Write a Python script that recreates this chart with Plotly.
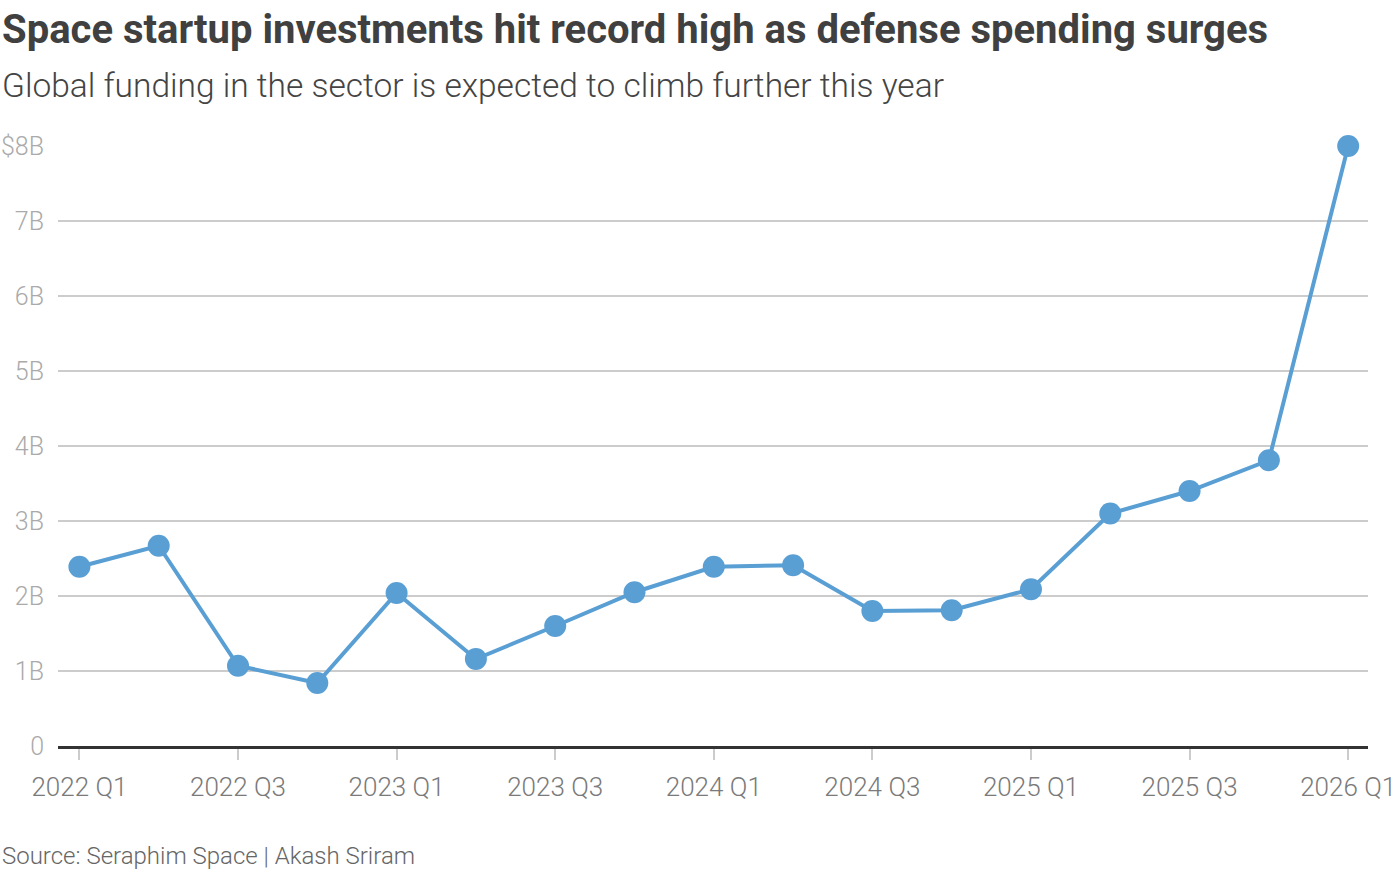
import plotly.graph_objects as go

# quarterly global space startup funding, $ billions
quarters = ["2022 Q1", "2022 Q2", "2022 Q3", "2022 Q4",
            "2023 Q1", "2023 Q2", "2023 Q3", "2023 Q4",
            "2024 Q1", "2024 Q2", "2024 Q3", "2024 Q4",
            "2025 Q1", "2025 Q2", "2025 Q3", "2025 Q4",
            "2026 Q1"]
funding = [2.39, 2.67, 1.07, 0.84,
           2.04, 1.16, 1.60, 2.05,
           2.39, 2.41, 1.80, 1.81,
           2.09, 3.10, 3.40, 3.81,
           8.00]

y_ticks = [0, 1, 2, 3, 4, 5, 6, 7, 8]
y_labels = ["0", "1B", "2B", "3B", "4B", "5B", "6B", "7B", "$8B"]
x_ticks = quarters[::2]

title = "Space startup investments hit record high as defense spending surges"
subtitle = "Global funding in the sector is expected to climb further this year"
source = "Source: Seraphim Space | Akash Sriram"

line_colour = "#5a9fd4"
font_name = "Roboto"

# plot area in pixels
W, H = 1396, 870
m_l, m_r, m_t, m_b = 58, 28, 146, 124
plot_w = W - m_l - m_r
plot_h = H - m_t - m_b

fig = go.Figure()
fig.add_trace(
    go.Scatter(
        x=quarters, y=funding, mode="lines+markers",
        line=dict(color=line_colour, width=4),
        marker=dict(color=line_colour, size=22),
        cliponaxis=False, showlegend=False))

fig.update_xaxes(
    type="category", range=[-0.27, 16.25], automargin=False,
    tickmode="array", tickvals=x_ticks, ticktext=x_ticks,
    ticks="outside", ticklen=11, tickwidth=1.5, tickcolor="#cccccc",
    ticklabelstandoff=5,
    tickfont=dict(family=font_name, size=26, color="#7a7a7a", weight=300),
    showgrid=False, showline=True, linecolor="#333333", linewidth=2.5,
    zeroline=False)

fig.update_yaxes(
    range=[0, 8], automargin=False,
    tickmode="array", tickvals=y_ticks, ticktext=y_labels,
    tickfont=dict(family=font_name, size=25, color="#aaaaaa", weight=300),
    showgrid=True, gridcolor="#cccccc", gridwidth=1.5,
    zeroline=False, showline=False, ticks="", ticklabelstandoff=13)

# title, subtitle, source (y = pixel centre from top of page)
texts = [
    dict(text=title, y=30, size=40, colour="#404040", weight=700),
    dict(text=subtitle, y=86, size=33.5, colour="#444444", weight=300),
    dict(text=source, y=856, size=24, colour="#666666", weight=300),
]
for t in texts:
    fig.add_annotation(
        text=t["text"], showarrow=False,
        xref="paper", yref="paper",
        x=-m_l/plot_w, y=(H - m_b - t["y"])/plot_h,
        xanchor="left", yanchor="middle",
        font=dict(family=font_name, size=t["size"], color=t["colour"],
                  weight=t["weight"]))

fig.update_layout(
    width=W, height=H,
    margin=dict(l=m_l, r=m_r, t=m_t, b=m_b),
    paper_bgcolor="white", plot_bgcolor="white",
    font=dict(family=font_name))

fig.write_html("out.html", config=dict(displayModeBar=False),
               post_script="document.body.style.margin='0';")
